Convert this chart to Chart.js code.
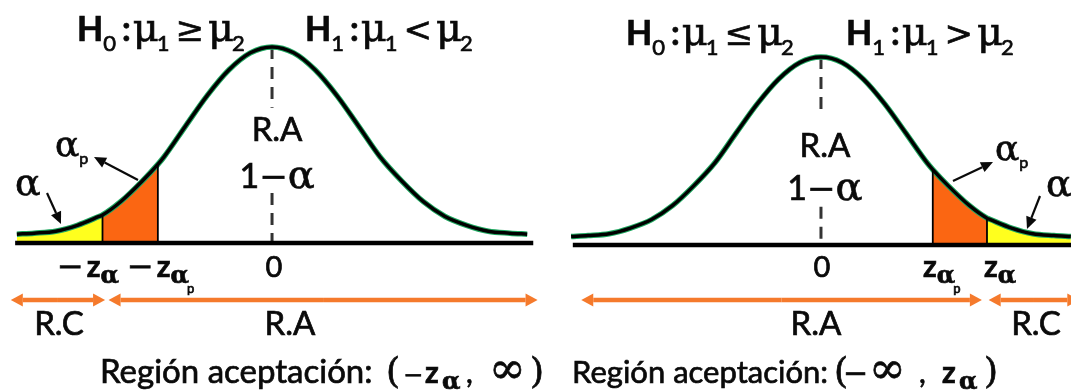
<!DOCTYPE html>
<html>
<head>
<meta charset="utf-8">
<script src="https://cdn.jsdelivr.net/npm/chart.js@4.4.1/dist/chart.umd.min.js"></script>
<style>
html, body { margin: 0; padding: 0; background: #fff; }
#wrap { position: relative; width: 1071px; height: 392px; }
</style>
</head>
<body>
<div id="wrap"><canvas id="chart" width="1071" height="392"></canvas></div>
<script>
// normal curve heights (z units)
const zGrid = [-2.95, -2.75, -2.5, -2.25, -2, -1.75, -1.5, -1.25, -1, -0.75, -0.5, -0.25, 0,
               0.25, 0.5, 0.75, 1, 1.25, 1.5, 1.75, 2, 2.25, 2.5, 2.75, 2.95];
const density = [0.018, 0.020, 0.024, 0.036, 0.054, 0.084, 0.126, 0.175, 0.238, 0.300, 0.352, 0.387, 0.399,
                 0.387, 0.352, 0.300, 0.238, 0.175, 0.126, 0.084, 0.054, 0.036, 0.024, 0.020, 0.018];
// critical points: z_alpha_p and z_alpha
const zCrit = [1.32, 1.96];
const densCrit = [0.160, 0.057];
const peak = 0.399;

const SANS = 'Lato, "Open Sans", sans-serif';
const SERIF = '"DejaVu Serif", "Liberation Serif", serif';
const ORANGE = '#fb6612';
const YELLOW = '#ffff1e';
const ARROW_OR = '#f57a2c';
const INK = '#0a0a0a';

function curve(sign) {
    let pts = zGrid.map((z, i) => ({x: z, y: density[i]}));
    zCrit.forEach((z, i) => pts.push({x: sign * z, y: densCrit[i]}));
    return pts.sort((a, b) => a.x - b.x);
}
const leftCurve = curve(-1);
const rightCurve = curve(1);

function line(data, xa, ya, color, width, order, extra) {
    return Object.assign({
        data: data, xAxisID: xa, yAxisID: ya, borderColor: color, borderWidth: width,
        pointRadius: 0, fill: false, order: order, borderCapStyle: 'butt'
    }, extra || {});
}
function area(data, xa, ya, color) {
    return {data: data, xAxisID: xa, yAxisID: ya, borderWidth: 0, borderColor: 'transparent',
        backgroundColor: color, fill: 'origin', pointRadius: 0, order: 5, cubicInterpolationMode: 'monotone'};
}
const smooth = {cubicInterpolationMode: 'monotone'};
const dashed = {borderDash: [12, 8]};

const datasets = [
    // left panel
    area(leftCurve.filter(p => p.x <= -zCrit[1]), 'xL', 'yL', YELLOW),
    area(leftCurve.filter(p => p.x >= -zCrit[1] && p.x <= -zCrit[0]), 'xL', 'yL', ORANGE),
    line(leftCurve, 'xL', 'yL', '#1fa860', 5.5, 2, smooth),
    line(leftCurve, 'xL', 'yL', '#000', 3.5, 1, smooth),
    line([{x: -2.97, y: 0}, {x: 3.02, y: 0}], 'xL', 'yL', '#000', 4.5, 0),
    line([{x: -zCrit[1], y: 0}, {x: -zCrit[1], y: densCrit[1]}], 'xL', 'yL', '#000', 1.8, 0),
    line([{x: -zCrit[0], y: 0}, {x: -zCrit[0], y: densCrit[0]}], 'xL', 'yL', '#000', 1.8, 0),
    line([{x: 0, y: peak}, {x: 0, y: 0.275}, {x: 0, y: null}, {x: 0, y: 0.102}, {x: 0, y: 0}],
        'xL', 'yL', '#333', 3, 3, dashed),
    // right panel
    area(rightCurve.filter(p => p.x >= zCrit[1]), 'xR', 'yR', YELLOW),
    area(rightCurve.filter(p => p.x >= zCrit[0] && p.x <= zCrit[1]), 'xR', 'yR', ORANGE),
    line(rightCurve, 'xR', 'yR', '#1fa860', 5.5, 2, smooth),
    line(rightCurve, 'xR', 'yR', '#000', 3.5, 1, smooth),
    line([{x: -2.93, y: 0}, {x: 3.2, y: 0}], 'xR', 'yR', '#000', 4.5, 0),
    line([{x: zCrit[1], y: 0}, {x: zCrit[1], y: densCrit[1]}], 'xR', 'yR', '#000', 1.8, 0),
    line([{x: zCrit[0], y: 0}, {x: zCrit[0], y: densCrit[0]}], 'xR', 'yR', '#000', 1.8, 0),
    line([{x: 0, y: peak}, {x: 0, y: 0.276}, {x: 0, y: null}, {x: 0, y: 0.081}, {x: 0, y: 0}],
        'xR', 'yR', '#333', 3, 3, dashed)
];

// draws a row of text pieces (sub/superscripts via dy, extra spacing via g, fixed spot via x)
function rich(ctx, x, y, parts, align) {
    let w = 0;
    parts.forEach(p => {
        ctx.font = p.f;
        p.w = ctx.measureText(p.t).width + (p.g || 0);
        w += p.w;
    });
    let cx = align === 'center' ? x - w / 2 : x;
    ctx.lineWidth = 0.7;
    ctx.strokeStyle = INK;
    parts.forEach(p => {
        if (p.x !== undefined) cx = p.x;
        ctx.font = p.f;
        ctx.fillText(p.t, cx + (p.g || 0), y + (p.dy || 0));
        ctx.strokeText(p.t, cx + (p.g || 0), y + (p.dy || 0));
        cx += p.w;
    });
}

function arrow(ctx, x1, y1, x2, y2, color, lw, hl, hw) {
    const a = Math.atan2(y2 - y1, x2 - x1);
    const bx = x2 - hl * Math.cos(a), by = y2 - hl * Math.sin(a);
    ctx.strokeStyle = color;
    ctx.fillStyle = color;
    ctx.lineWidth = lw;
    ctx.beginPath();
    ctx.moveTo(x1, y1);
    ctx.lineTo(bx, by);
    ctx.stroke();
    ctx.beginPath();
    ctx.moveTo(x2, y2);
    ctx.lineTo(bx + hw * Math.sin(a), by - hw * Math.cos(a));
    ctx.lineTo(bx - hw * Math.sin(a), by + hw * Math.cos(a));
    ctx.closePath();
    ctx.fill();
}

function doubleArrow(ctx, x1, x2, y) {
    arrow(ctx, (x1 + x2) / 2, y, x1, y, ARROW_OR, 4.5, 12, 6.5);
    arrow(ctx, (x1 + x2) / 2, y, x2, y, ARROW_OR, 4.5, 12, 6.5);
}

function hyp(sub, rel) {
    return [
        {t: 'H', f: 'bold 34px ' + SANS},
        {t: sub, f: '22px ' + SANS, dy: 10},
        {t: ':', f: 'bold 34px ' + SANS, g: 6},
        {t: 'μ', f: '40px ' + SERIF, g: 2},
        {t: '1', f: '22px ' + SANS, dy: 10, g: -2},
        {t: rel, f: '34px ' + SERIF, g: 6},
        {t: 'μ', f: '40px ' + SERIF, g: 4},
        {t: '2', f: '22px ' + SANS, dy: 10, g: -2}
    ];
}
function oneMinusAlpha() {
    return [
        {t: '1', f: '34px ' + SANS},
        {t: '−', f: '34px ' + SERIF},
        {t: 'α', f: '40px ' + SERIF}
    ];
}
function alphaP() {
    return [{t: 'α', f: '36px ' + SERIF}, {t: 'p', f: '16px ' + SANS, dy: 8}];
}
function zLabel(neg, withP) {
    const parts = [];
    if (neg) parts.push({t: '−', f: '32px ' + SERIF});
    parts.push({t: 'z', f: 'bold 30px ' + SANS, g: neg ? 3 : 0});
    parts.push({t: 'α', f: 'bold 24px ' + SERIF, dy: 6});
    if (withP) parts.push({t: 'p', f: '13px ' + SANS, dy: 16, g: -2});
    return parts;
}

const labels = {
    id: 'labels',
    afterDatasetsDraw(chart) {
        const ctx = chart.ctx;
        const xL = v => chart.scales.xL.getPixelForValue(v);
        const xR = v => chart.scales.xR.getPixelForValue(v);
        ctx.save();
        ctx.fillStyle = INK;
        ctx.textBaseline = 'alphabetic';

        // hypotheses
        rich(ctx, 77, 41, hyp('0', '≥'));
        rich(ctx, 305, 41, hyp('1', '<'));
        rich(ctx, 626, 45, hyp('0', '≤'));
        rich(ctx, 846, 45, hyp('1', '>'));

        // acceptance region in the middle
        rich(ctx, xL(0) + 5, 141, [{t: 'R.A', f: '33px ' + SANS}], 'center');
        rich(ctx, xR(0) + 4, 157, [{t: 'R.A', f: '33px ' + SANS}], 'center');
        rich(ctx, xL(0) + 5, 188, oneMinusAlpha(), 'center');
        rich(ctx, xR(0) + 4, 200, oneMinusAlpha(), 'center');

        // alpha and alpha_p callouts
        rich(ctx, 55, 156, alphaP());
        rich(ctx, 15, 195, [{t: 'α', f: '38px ' + SERIF}]);
        rich(ctx, 995, 160, alphaP());
        rich(ctx, 1046, 196, [{t: 'α', f: '38px ' + SERIF}]);
        arrow(ctx, 138, 180, 94, 157, INK, 2.2, 12, 5.5);
        arrow(ctx, 47, 193, 61, 224, INK, 2.2, 12, 5.5);
        arrow(ctx, 953, 181, 993, 162, INK, 2.2, 12, 5.5);
        arrow(ctx, 1040, 196, 1027, 229, INK, 2.2, 12, 5.5);

        // tick labels
        ctx.fillStyle = INK;
        rich(ctx, 57, 277, zLabel(true, false));
        rich(ctx, 127, 277, zLabel(true, true));
        rich(ctx, 923, 277, zLabel(false, true));
        rich(ctx, 984, 277, zLabel(false, false));
        rich(ctx, xL(0) + 2, 277, [{t: '0', f: '29px ' + SANS}], 'center');
        rich(ctx, xR(0) + 1, 277, [{t: '0', f: '29px ' + SANS}], 'center');

        // rejection / acceptance arrows
        doubleArrow(ctx, xL(-3.02), xL(-1.93), 300);
        doubleArrow(ctx, xL(-1.89), xL(3.07), 300);
        doubleArrow(ctx, xR(-2.83), xR(1.90), 300);
        doubleArrow(ctx, xR(1.98), xR(3.05), 300);
        ctx.fillStyle = INK;
        const rf = '33px ' + SANS;
        rich(ctx, 59, 335, [{t: 'R.C', f: rf}], 'center');
        rich(ctx, 290, 335, [{t: 'R.A', f: rf}], 'center');
        rich(ctx, 816, 335, [{t: 'R.A', f: rf}], 'center');
        rich(ctx, 1036, 335, [{t: 'R.C', f: rf}], 'center');

        // acceptance intervals
        rich(ctx, 100, 383, [
            {t: 'Región aceptación:', f: '33px ' + SANS},
            {t: '(', f: '36px ' + SERIF, x: 386},
            {t: '−', f: '24px ' + SERIF, x: 403},
            {t: 'z', f: 'bold 30px ' + SANS, x: 425},
            {t: 'α', f: 'bold 24px ' + SERIF, dy: 6, x: 442},
            {t: ',', f: '30px ' + SANS, x: 466},
            {t: '∞', f: '44px ' + SERIF, x: 489},
            {t: ')', f: '36px ' + SERIF, x: 530}
        ]);
        rich(ctx, 572, 383, [
            {t: 'Región aceptación:', f: '31px ' + SANS},
            {t: '(', f: '36px ' + SERIF, x: 834},
            {t: '−', f: '30px ' + SERIF, x: 843},
            {t: '∞', f: '44px ' + SERIF, x: 869},
            {t: ',', f: '30px ' + SANS, x: 919},
            {t: 'z', f: 'bold 30px ' + SANS, x: 942},
            {t: 'α', f: 'bold 24px ' + SERIF, dy: 6, x: 959},
            {t: ')', f: '36px ' + SERIF, x: 984}
        ]);
        ctx.restore();
    }
};

const hidden = {display: false, grid: {display: false}, ticks: {display: false}};
new Chart(document.getElementById('chart'), {
    type: 'line',
    data: {datasets: datasets},
    options: {
        responsive: false,
        animation: false,
        events: [],
        devicePixelRatio: 1,
        layout: {padding: 0},
        plugins: {legend: {display: false}, tooltip: {enabled: false}},
        scales: {
            // px = 272 + 86.5 z on the left, 821 + 84.7 z on the right
            xL: Object.assign({type: 'linear', axis: 'x', min: -3.145, max: 9.237}, hidden),
            xR: Object.assign({type: 'linear', axis: 'x', min: -9.693, max: 2.952}, hidden),
            yL: Object.assign({type: 'linear', axis: 'y', min: -0.3032, max: 0.4945}, hidden),
            yR: Object.assign({type: 'linear', axis: 'y', min: -0.3119, max: 0.5199}, hidden)
        }
    },
    plugins: [labels]
});
</script>
</body>
</html>
